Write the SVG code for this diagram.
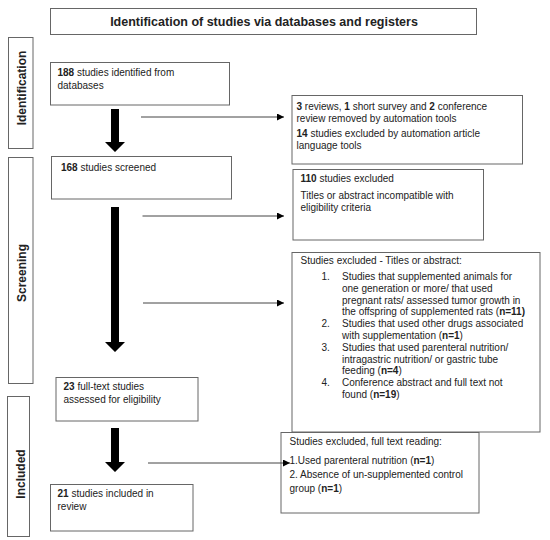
<svg xmlns="http://www.w3.org/2000/svg" width="550" height="540" viewBox="0 0 550 540">
<defs>
<style>
.bx{fill:#fff;stroke:#666;stroke-width:1}
.t{font-family:"Liberation Sans",Arial,sans-serif;font-size:10px;fill:#222}
.b{font-weight:bold}
.side{font-family:"Liberation Sans",Arial,sans-serif;font-size:12px;font-weight:bold;fill:#222;text-anchor:middle}
.thin{stroke:#444;stroke-width:1;fill:none}
.thick{fill:#000}
</style>
<marker id="ah" viewBox="0 0 10 10" refX="10" refY="5" markerWidth="7" markerHeight="7" markerUnits="userSpaceOnUse" orient="auto">
<path d="M0,0 L10,5 L0,10 z" fill="#000"/>
</marker>
</defs>
<rect width="550" height="540" fill="#fff"/>

<g id="title">
<rect class="bx" x="50.5" y="8.5" width="426" height="26"/>
<text x="264" y="26" class="t b" style="font-size:12.5px" text-anchor="middle">Identification of studies via databases and registers</text>
</g>

<g id="side-identification">
<rect class="bx" x="8.5" y="37.5" width="24.5" height="111"/>
<text class="side" transform="translate(26,88) rotate(-90)">Identification</text>
</g>
<g id="side-screening">
<rect class="bx" x="8.5" y="157.5" width="24.5" height="226"/>
<text class="side" transform="translate(26,273) rotate(-90)">Screening</text>
</g>
<g id="side-included">
<rect class="bx" x="7.5" y="396.5" width="22" height="140"/>
<text class="side" transform="translate(25,474) rotate(-90)">Included</text>
</g>

<g id="n188">
<rect class="bx" x="50.5" y="62.5" width="179" height="42.5"/>
<text class="t" x="57.5" y="76"><tspan class="b">188</tspan> studies identified from</text>
<text class="t" x="57.5" y="88.5">databases</text>
</g>

<g id="excl1">
<rect class="bx" x="292" y="95.5" width="230.5" height="68.5"/>
<text class="t" x="296.5" y="110"><tspan class="b">3</tspan> reviews, <tspan class="b">1</tspan> short survey and <tspan class="b">2</tspan> conference</text>
<text class="t" x="296.5" y="121.5">review removed by automation tools</text>
<text class="t" x="296.5" y="137"><tspan class="b">14</tspan> studies excluded by automation article</text>
<text class="t" x="296.5" y="148.5">language tools</text>
</g>

<g id="n168">
<rect class="bx" x="51.5" y="156.5" width="180" height="42.5"/>
<text class="t" x="61" y="171"><tspan class="b">168</tspan> studies screened</text>
</g>

<g id="excl110">
<rect class="bx" x="293" y="169.5" width="190.5" height="70.5"/>
<text class="t" x="300.5" y="182"><tspan class="b">110</tspan> studies excluded</text>
<text class="t" x="300.5" y="199">Titles or abstract incompatible with</text>
<text class="t" x="300.5" y="210.5">eligibility criteria</text>
</g>

<g id="exclTitles">
<rect class="bx" x="292" y="252.5" width="248" height="179.5"/>
<text class="t" x="300.5" y="264">Studies excluded - Titles or abstract:</text>
<text class="t" x="321.5" y="280">1.</text>
<text class="t" x="342" y="280">Studies that supplemented animals for</text>
<text class="t" x="342" y="291.8">one generation or more/ that used</text>
<text class="t" x="342" y="303.6">pregnant rats/ assessed tumor growth in</text>
<text class="t" x="342" y="315.4">the offspring of supplemented rats (<tspan class="b">n=11)</tspan></text>
<text class="t" x="321.5" y="327.2">2.</text>
<text class="t" x="342" y="327.2">Studies that used other drugs associated</text>
<text class="t" x="342" y="339">with supplementation (<tspan class="b">n=1</tspan>)</text>
<text class="t" x="321.5" y="350.8">3.</text>
<text class="t" x="342" y="350.8">Studies that used parenteral nutrition/</text>
<text class="t" x="342" y="362.6">intragastric nutrition/ or gastric tube</text>
<text class="t" x="342" y="374.4">feeding (<tspan class="b">n=4</tspan>)</text>
<text class="t" x="321.5" y="386.2">4.</text>
<text class="t" x="342" y="386.2">Conference abstract and full text not</text>
<text class="t" x="342" y="398">found (<tspan class="b">n=19</tspan>)</text>
</g>

<g id="n23">
<rect class="bx" x="56" y="377.5" width="142" height="43.5"/>
<text class="t" x="63.5" y="390"><tspan class="b">23</tspan> full-text studies</text>
<text class="t" x="63.5" y="403">assessed for eligibility</text>
</g>

<g id="exclFull">
<rect class="bx" x="281" y="432.5" width="198" height="80.5"/>
<text class="t" x="289.5" y="445">Studies excluded, full text reading:</text>
<text class="t" x="289.5" y="464">1.Used parenteral nutrition (<tspan class="b">n=1</tspan>)</text>
<text class="t" x="289.5" y="477.5">2. Absence of un-supplemented control</text>
<text class="t" x="289.5" y="491.5">group (<tspan class="b">n=1</tspan>)</text>
</g>

<g id="n21">
<rect class="bx" x="50.5" y="484.5" width="142.5" height="46.5"/>
<text class="t" x="57.5" y="497"><tspan class="b">21</tspan> studies included in</text>
<text class="t" x="57.5" y="510">review</text>
</g>

<g id="connectors">
<path class="thick" d="M111,109 H119 V142 H125 L115,152 L105,142 H111 Z"/>
<path class="thick" d="M111,207 H119 V342 H125 L115,352 L105,342 H111 Z"/>
<path class="thick" d="M111,428 H119 V462 H125 L115,472 L105,462 H111 Z"/>
<line class="thin" x1="141" y1="117" x2="284" y2="117" marker-end="url(#ah)"/>
<line class="thin" x1="142.5" y1="216" x2="284" y2="216" marker-end="url(#ah)"/>
<line class="thin" x1="143" y1="303" x2="284" y2="303" marker-end="url(#ah)"/>
<line class="thin" x1="148" y1="463" x2="290" y2="463" marker-end="url(#ah)"/>
</g>
</svg>
